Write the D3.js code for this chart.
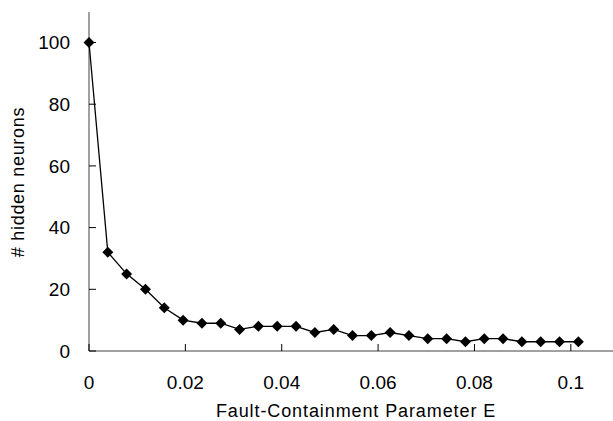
<!DOCTYPE html>
<html>
<head>
<meta charset="utf-8">
<script src="https://cdn.jsdelivr.net/npm/d3@7"></script>
<style>
  body { margin: 0; background: #fff; }
  text { font-family: "Liberation Sans", Arial, sans-serif; fill: #000; }
</style>
</head>
<body>
<div id="chart-area"></div>
<script>
// Data: hidden neurons vs fault-containment parameter (step 1/256)
const epsValues = [0, 1, 2, 3, 4, 5, 6, 7, 8, 9, 10, 11, 12, 13, 14, 15, 16, 17, 18, 19, 20, 21, 22, 23, 24, 25, 26]
    .map(function(i) { return i / 256; });
const neurons = [100, 32, 25, 20, 14, 10, 9, 9, 7, 8, 8, 8, 6, 7, 5, 5, 6, 5, 4, 4, 3, 4, 4, 3, 3, 3, 3];
const xTicks = [0, 0.02, 0.04, 0.06, 0.08, 0.1];
const yTicks = [0, 20, 40, 60, 80, 100];

const data = epsValues.map(function(e, i) { return { eps: e, n: neurons[i] }; });

const W = 613, H = 421;
const margin = { left: 89, right: 0, top: 12, bottom: 70 };

const svg = d3.select("#chart-area").append("svg")
    .attr("width", W)
    .attr("height", H);

// Scales
const x = d3.scaleLinear().domain([0, 0.11]).range([margin.left, margin.left + 530]);
const y = d3.scaleLinear().domain([0, 110]).range([351, 351 - 110 * 3.085]);

// Axis lines
svg.append("line")
    .attr("x1", x(0)).attr("x2", W + 10)
    .attr("y1", y(0)).attr("y2", y(0))
    .attr("stroke", "#808080").attr("stroke-width", 1.5);
svg.append("line")
    .attr("x1", x(0)).attr("x2", x(0))
    .attr("y1", y(0)).attr("y2", margin.top)
    .attr("stroke", "#808080").attr("stroke-width", 1.5);

// Ticks (pointing inward)
svg.selectAll(".ytick").data(yTicks).enter().append("line")
    .attr("class", "ytick")
    .attr("x1", x(0)).attr("x2", x(0) + 7)
    .attr("y1", function(d) { return y(d); })
    .attr("y2", function(d) { return y(d); })
    .attr("stroke", "#000").attr("stroke-width", 1);
svg.selectAll(".xtick").data(xTicks).enter().append("line")
    .attr("class", "xtick")
    .attr("x1", function(d) { return x(d); })
    .attr("x2", function(d) { return x(d); })
    .attr("y1", y(0)).attr("y2", y(0) - 7)
    .attr("stroke", "#000").attr("stroke-width", 1);

// Tick labels
svg.selectAll(".ylab").data(yTicks).enter().append("text")
    .attr("class", "ylab")
    .attr("x", 70)
    .attr("y", function(d) { return y(d); })
    .attr("dy", "0.35em")
    .attr("text-anchor", "end")
    .style("font-size", "19px")
    .text(function(d) { return d; });
svg.selectAll(".xlab").data(xTicks).enter().append("text")
    .attr("class", "xlab")
    .attr("x", function(d) { return x(d); })
    .attr("y", 382)
    .attr("dy", "0.35em")
    .attr("text-anchor", "middle")
    .style("font-size", "19px")
    .text(function(d) { return d; });

// Axis titles
svg.append("text")
    .attr("x", 356)
    .attr("y", 411)
    .attr("dy", "0.35em")
    .attr("text-anchor", "middle")
    .style("font-size", "18px")
    .style("letter-spacing", "0.9px")
    .text("Fault-Containment Parameter E");
svg.append("text")
    .attr("transform", "translate(18," + 182 + ") rotate(-90)")
    .attr("dy", "0.35em")
    .attr("text-anchor", "middle")
    .style("font-size", "18px")
    .style("letter-spacing", "0.7px")
    .text("# hidden neurons");

// Line
const line = d3.line()
    .x(function(d) { return x(d.eps); })
    .y(function(d) { return y(d.n); });

svg.append("path")
    .attr("d", line(data))
    .attr("fill", "none")
    .attr("stroke", "#000")
    .attr("stroke-width", 1.3);

// Diamond markers
svg.selectAll(".pt").data(data).enter().append("path")
    .attr("class", "pt")
    .attr("transform", function(d) { return "translate(" + x(d.eps) + "," + y(d.n) + ")"; })
    .attr("d", "M0,-5.5L5.5,0L0,5.5L-5.5,0Z")
    .attr("fill", "#000");
</script>
</body>
</html>
